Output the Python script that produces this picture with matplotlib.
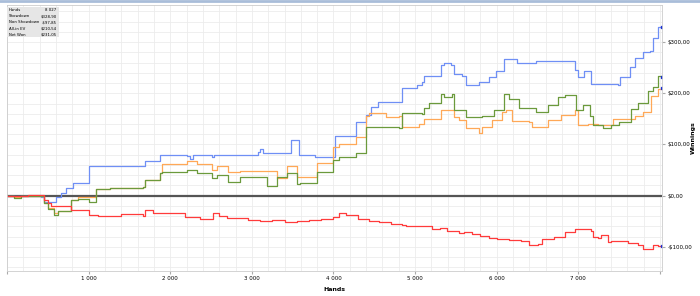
import numpy as np
import matplotlib.pyplot as plt
from matplotlib.lines import Line2D
from matplotlib.ticker import MultipleLocator, FuncFormatter

# cumulative winnings (hands, dollars)
showdown_hands = [0, 415, 451, 573, 598, 659, 720, 805, 988, 1000, 1671, 1695, 1878, 2207, 2244, 2280,
                  2512, 2540, 2854, 3073, 3098, 3140, 3463, 3475, 3561, 3575, 3768, 4012, 4024, 4232,
                  4280, 4402, 4463, 4550, 4805, 4841, 5024, 5085, 5110, 5317, 5354, 5440, 5476, 5573,
                  5622, 5780, 5902, 5988, 6085, 6244, 6476, 6963, 7000, 7073, 7159, 7488, 7512, 7634,
                  7695, 7793, 7878, 7915, 7976, 8027]
showdown_vals = [0, -2, -12, -12, -2, 5, 15, 25, 25, 57, 57, 67, 80, 78, 72, 80,
                 76, 80, 80, 86, 92, 84, 84, 108, 108, 80, 76, 76, 117, 117,
                 143, 158, 174, 184, 184, 211, 217, 223, 233, 256, 260, 256, 237, 233,
                 217, 223, 231, 243, 268, 260, 264, 245, 231, 243, 219, 217, 231, 252,
                 270, 280, 282, 309, 329, 329]

nonsd_hands = [0, 256, 378, 451, 500, 537, 744, 780, 1000, 1110, 1400, 1671, 1695, 1793, 2037, 2183,
               2366, 2524, 2600, 2695, 2854, 2951, 3100, 3250, 3400, 3550, 3700, 3850, 3988, 4073,
               4150, 4300, 4440, 4560, 4700, 4841, 4890, 5085, 5207, 5300, 5390, 5537, 5600, 5700,
               5800, 5900, 6000, 6150, 6300, 6390, 6500, 6549, 6700, 6841, 6963, 7085, 7159, 7183,
               7244, 7280, 7366, 7402, 7573, 7610, 7732, 7793, 7878, 7915, 7976, 8027]
nonsd_vals = [0, 2, 2, -8, -15, -21, -21, -29, -37, -39, -36, -39, -29, -33, -33, -41,
              -45, -33, -40, -43, -43, -47, -50, -48, -52, -50, -47, -45, -42, -33,
              -38, -45, -50, -52, -55, -57, -60, -60, -66, -64, -70, -73, -72, -75,
              -78, -82, -85, -87, -88, -96, -94, -85, -80, -72, -65, -65, -70, -80,
              -82, -76, -90, -88, -88, -92, -96, -104, -104, -96, -99, -98]

allin_hands = [0, 85, 171, 415, 451, 500, 573, 622, 744, 780, 866, 1000, 1085, 1268, 1671, 1695,
               1878, 1902, 2207, 2329, 2512, 2573, 2707, 2854, 3256, 3305, 3427, 3549, 3793, 3988,
               4073, 4280, 4402, 4439, 4646, 4805, 4841, 5049, 5110, 5317, 5476, 5537, 5622, 5780,
               5817, 5939, 6061, 6110, 6183, 6390, 6427, 6634, 6793, 6963, 7000, 7122, 7244, 7427,
               7695, 7793, 7890, 7976, 8027]
allin_vals = [0, -3, 0, 0, -14, -24, -33, -31, -31, -8, -2, -2, 12, 14, 16, 31,
              45, 61, 67, 61, 51, 57, 47, 49, 49, 35, 57, 37, 64, 96,
              100, 115, 155, 162, 153, 155, 135, 141, 150, 168, 153, 148, 133, 123,
              135, 148, 164, 168, 145, 143, 135, 148, 158, 168, 139, 141, 139, 149,
              155, 164, 194, 209, 210]

net_hands = [0, 85, 171, 415, 451, 500, 573, 622, 744, 780, 866, 1000, 1085, 1268, 1671, 1695,
             1878, 1902, 2207, 2329, 2512, 2573, 2707, 2854, 3183, 3305, 3427, 3549, 3585, 3793,
             3988, 4073, 4280, 4402, 4805, 4841, 5085, 5110, 5171, 5317, 5354, 5451, 5476, 5598,
             5622, 5817, 5963, 6085, 6146, 6268, 6476, 6634, 6756, 6841, 6963, 6976, 7061, 7146,
             7183, 7300, 7400, 7500, 7650, 7732, 7854, 7915, 7976, 8027]
net_vals = [0, -5, 0, 0, -14, -26, -37, -31, -31, -8, -6, -12, 12, 14, 16, 31,
            45, 47, 51, 45, 35, 41, 27, 37, 18, 37, 45, 22, 25, 47,
            70, 76, 84, 135, 133, 162, 160, 172, 182, 198, 192, 198, 168, 168,
            153, 155, 168, 198, 188, 172, 164, 178, 192, 196, 196, 168, 178, 155,
            139, 133, 139, 143, 170, 182, 204, 213, 233, 231]

stat_labels = ['Hands', 'Showdown', 'Non Showdown', 'All-in EV', 'Net Won']
stat_values = ['8 027', '$328,90', '-$97,85', '$210,54', '$231,05']

fig = plt.figure(figsize=(7, 2.96), dpi=100)
ax = fig.add_axes([0.01, 0.085, 0.936, 0.897])

ax.plot(showdown_hands, showdown_vals, drawstyle='steps-post', color='#6f8ff5', lw=0.9)
ax.plot(allin_hands, allin_vals, drawstyle='steps-post', color='#ffa857', lw=0.9)
ax.plot(net_hands, net_vals, drawstyle='steps-post', color='#6b9a3c', lw=0.9)
ax.plot(nonsd_hands, nonsd_vals, drawstyle='steps-post', color='#ff3b3b', lw=0.9)
ax.axhline(0, color='#555555', lw=1.6, zorder=1)

# little end markers
for h, v in [(showdown_hands, showdown_vals), (allin_hands, allin_vals),
             (net_hands, net_vals), (nonsd_hands, nonsd_vals)]:
    ax.plot(h[-1], v[-1], 's', color='#1a2fd0', ms=1.6)

ax.set_xlim(0, 8027)
ax.set_ylim(-147, 372)
ax.xaxis.set_major_locator(MultipleLocator(1000))
ax.xaxis.set_minor_locator(MultipleLocator(200))
ax.yaxis.set_major_locator(MultipleLocator(100))
ax.yaxis.set_minor_locator(MultipleLocator(20))
ax.xaxis.set_major_formatter(FuncFormatter(lambda x, p: '' if x <= 0 or x >= 8000 else f'{int(x):,}'.replace(',', ' ')))
ax.yaxis.set_major_formatter(FuncFormatter(lambda y, p: ('-' if y < 0 else '') + f'${abs(y):.2f}'.replace('.', ',')))
ax.yaxis.tick_right()
ax.tick_params(axis='both', which='major', labelsize=4, length=2, color='#aaaaaa', pad=2)
ax.tick_params(axis='both', which='minor', length=0)
ax.grid(True, which='both', color='#ececec', lw=0.6)
ax.set_axisbelow(True)
for s in ax.spines.values():
    s.set_color('#cccccc')
    s.set_linewidth(0.6)

ax.set_xlabel('Hands', fontsize=4.5, fontweight='bold', labelpad=4)
ax.yaxis.set_label_position('right')
ax.set_ylabel('Winnings', fontsize=4.5, fontweight='bold')
ax.yaxis.set_label_coords(1.043, 0.5)

# stats box top-left
box = plt.Rectangle((0.01, 0.875), 0.074, 0.103, transform=fig.transFigure,
                    facecolor='#e6e6e6', edgecolor='none', zorder=5)
fig.add_artist(box)
for i, (lab, val) in enumerate(zip(stat_labels, stat_values)):
    y = 0.965 - i * 0.0205
    fig.text(0.013, y, lab, fontsize=2.8, va='center', ha='left', zorder=6)
    fig.text(0.081, y, val, fontsize=2.8, va='center', ha='right', zorder=6)

fig.add_artist(Line2D([0, 1], [0.996, 0.996], transform=fig.transFigure, color='#a9bdd9', lw=2))

fig.savefig('out.png', dpi=100)
